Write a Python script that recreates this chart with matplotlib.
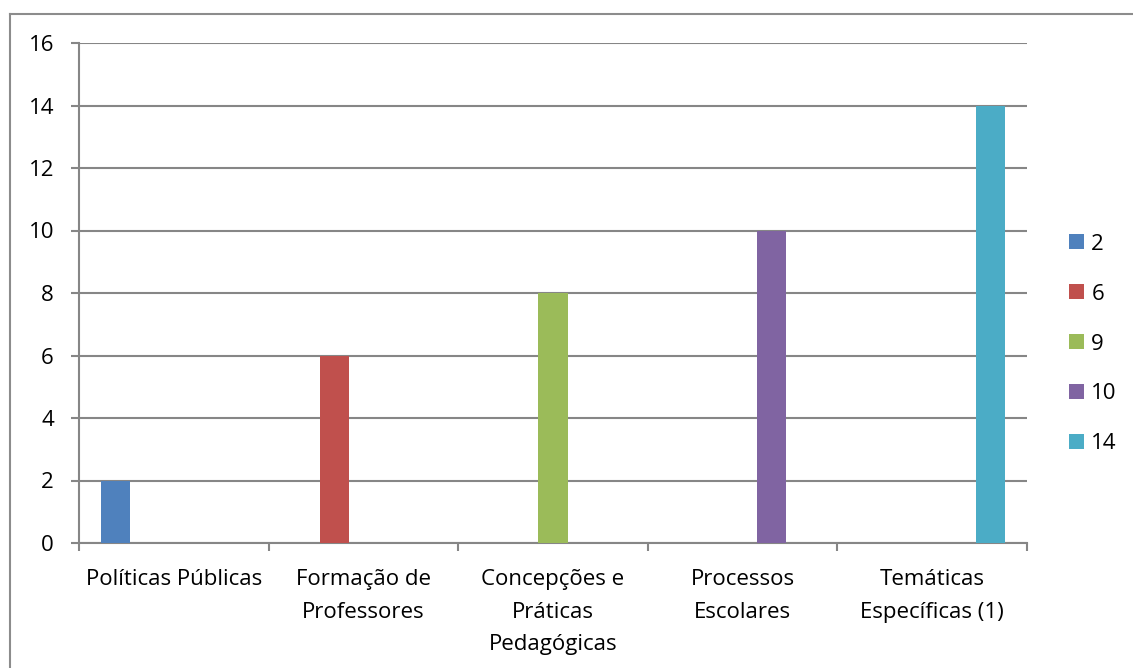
import numpy as np
import matplotlib.pyplot as plt
from matplotlib.lines import Line2D

categorias = ["Políticas Públicas", "Formação de\nProfessores", "Concepções e\nPráticas\nPedagógicas",
              "Processos\nEscolares", "Temáticas\nEspecíficas (1)"]
series_nomes = ["2", "6", "9", "10", "14"]
valores = [
    [2, 0, 0, 0, 0],
    [0, 6, 0, 0, 0],
    [0, 0, 8, 0, 0],
    [0, 0, 0, 10, 0],
    [0, 0, 0, 0, 14],
]
cores = ["#4F81BD", "#C0504D", "#9BBB59", "#8064A2", "#4BACC6"]

plt.rcParams['font.family'] = ['Open Sans', 'DejaVu Sans']
FS = 16
W, H = 1133, 668
fig = plt.figure(figsize=(W / 100, H / 100), dpi=100)
ax = fig.add_axes([79 / W, 1 - 543 / H, (1027 - 79) / W, (543 - 43) / H])

# moldura do gráfico (cortada à direita e embaixo)
fig.add_artist(Line2D([10 / W, 1.0], [1 - 14 / H, 1 - 14 / H], color="#8c8c8c", lw=1.5))
fig.add_artist(Line2D([10 / W, 10 / W], [0, 1 - 14 / H], color="#8c8c8c", lw=1.5))

n = len(series_nomes)
larg = 1 / 6.5
x = np.arange(len(categorias))
for k in range(n):
    ax.bar(x + (k - (n - 1) / 2) * larg, valores[k], width=larg, color=cores[k],
           label=series_nomes[k], zorder=3)

ax.set_xlim(-0.5, len(categorias) - 0.5)
ax.set_ylim(0, 16)
ax.set_yticks(range(0, 17, 2))
ax.yaxis.grid(True, color="#868686", lw=1.5, zorder=0)
ax.set_xticks(x)
ax.set_xticklabels(categorias, fontsize=FS, linespacing=1.7)
ax.set_xticks(np.arange(len(categorias) + 1) - 0.5, minor=True)
ax.tick_params(axis="x", which="major", length=0, pad=19)
ax.tick_params(axis="x", which="minor", length=6, width=1.5, color="#868686")
ax.tick_params(axis="y", length=6, width=1.5, color="#868686", labelsize=FS, pad=12)
for s in ["top", "right"]:
    ax.spines[s].set_visible(False)
for s in ["left", "bottom"]:
    ax.spines[s].set_color("#868686")
    ax.spines[s].set_linewidth(1.5)

ax.legend(loc="center left", bbox_to_anchor=(1.035, 0.398), frameon=False, fontsize=FS,
          handlelength=0.65, handleheight=0.65, handletextpad=0.35, labelspacing=1.3,
          borderaxespad=0)

fig.savefig("out.png", dpi=100)
